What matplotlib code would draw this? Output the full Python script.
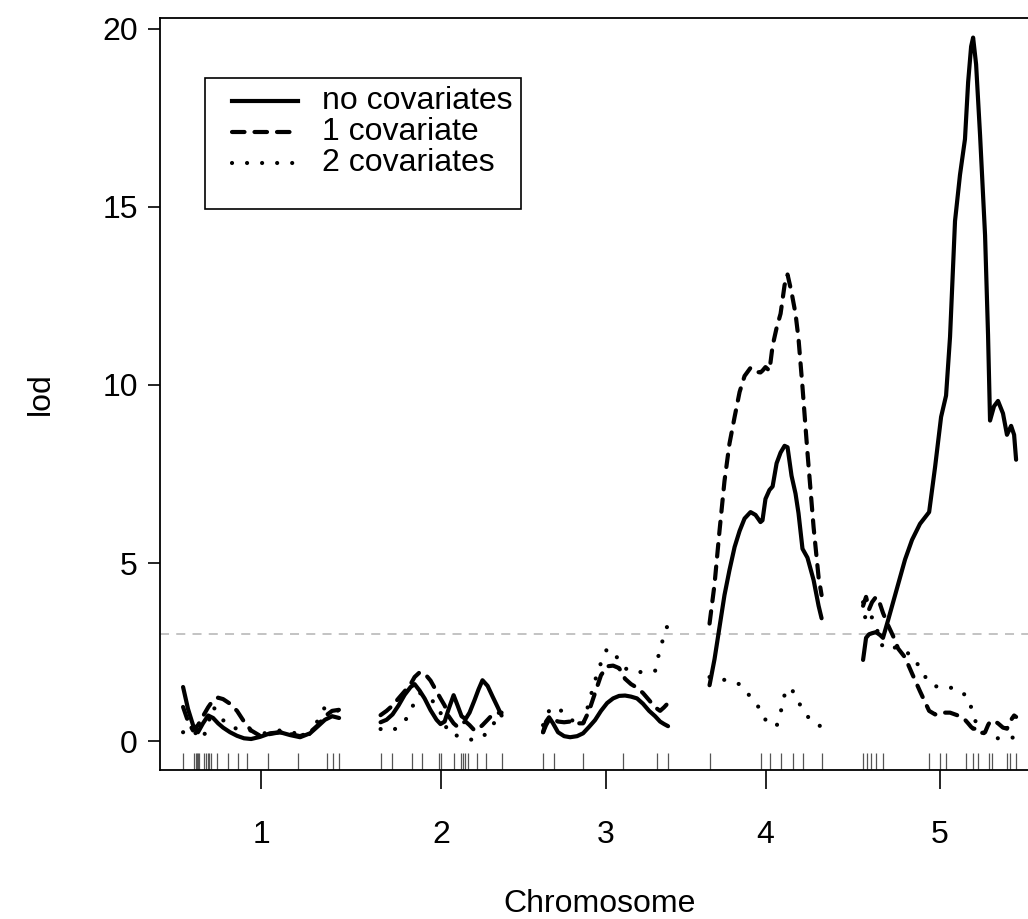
import matplotlib.pyplot as plt
from matplotlib.lines import Line2D
from matplotlib.patches import Rectangle
import numpy as np
import pandas as pd

plt.rcParams['font.family'] = ['Liberation Sans', 'DejaVu Sans']

chroms = ['1', '2', '3', '4', '5']
gap = 25  # cM between chromosomes
threshold = 3
legend_labels = ['no covariates', '1 covariate', '2 covariates']

# marker positions (cM)
markers_c1 = [0, 6.6, 7.8, 8.4, 9.0, 9.6, 12.7, 13.9, 15.1, 15.7, 16.9, 20.5, 27.1,
              33.1, 38.6, 51.2, 69.3, 86.7, 90.4, 94.0]
markers_c2 = [0, 6.6, 18.7, 24.7, 34.9, 36.7, 44.0, 48.2, 49.4, 50.6, 52.4, 57.8,
              63.3, 72.9]
markers_c3 = [0, 6.6, 24.1, 48.2, 68.7, 75.3]
markers_c4 = [0, 31.3, 36.7, 42.8, 50.0, 56.6, 67.5]
markers_c5 = [0, 2.4, 4.8, 7.8, 12.0, 39.8, 46.4, 50.0, 62.0, 66.3, 69.3, 75.9,
              77.7, 86.7, 88.6, 92.2]

# scan results: position (cM) and lod for the three models
pos_c1 = [0, 3.0, 6.0, 9.0, 12.0, 15.1, 18.1, 21.1, 24.1, 28.3, 32.5, 36.7, 41.0,
          46.4, 52.4, 58.4, 64.5, 70.5, 76.5, 81.3, 85.5, 89.8, 94.0]
nocov_c1 = [1.52, 0.9, 0.45, 0.25, 0.5, 0.72, 0.65, 0.5, 0.38, 0.25, 0.15, 0.08, 0.06,
            0.12, 0.22, 0.25, 0.17, 0.11, 0.22, 0.42, 0.6, 0.7, 0.65]
cov1_c1 = [0.96, 0.55, 0.3, 0.45, 0.7, 0.95, 1.15, 1.22, 1.18, 1.05, 0.85, 0.55, 0.3,
           0.15, 0.2, 0.25, 0.2, 0.14, 0.25, 0.45, 0.7, 0.85, 0.88]
cov2_c1 = [0.25, 0.35, 0.3, 0.15, 0.06, 0.5, 0.96, 0.8, 0.59, 0.4, 0.35, 0.3, 0.3,
           0.2, 0.25, 0.3, 0.25, 0.2, 0.2, 0.59, 0.96, 0.9, 0.85]

pos_c2 = [0, 3.6, 7.2, 10.8, 14.5, 18.1, 20.5, 23.5, 26.5, 30.1, 33.7, 36.1, 38.6,
          41.0, 44.0, 46.4, 48.8, 51.2, 53.6, 56.6, 59.0, 61.4, 64.5, 67.5, 70.5, 72.9]
nocov_c2 = [0.53, 0.6, 0.75, 1.0, 1.3, 1.52, 1.6, 1.42, 1.2, 0.87, 0.6, 0.48, 0.55,
            0.9, 1.29, 1.0, 0.7, 0.62, 0.8, 1.15, 1.45, 1.71, 1.55, 1.25, 0.96, 0.72]
cov1_c2 = [0.73, 0.85, 1.0, 1.2, 1.4, 1.6, 1.8, 1.93, 1.9, 1.7, 1.4, 1.2, 1.0,
           0.7, 0.5, 0.4, 0.5, 0.55, 0.45, 0.3, 0.35, 0.45, 0.6, 0.75, 0.79, 0.8]
cov2_c2 = [0.34, 0.3, 0.3, 0.4, 0.55, 0.85, 1.1, 1.35, 1.3, 1.15, 1.07, 0.8, 0.5,
           0.22, 0.18, 0.15, 0.11, 0.08, 0.05, 0.03, 0.05, 0.12, 0.25, 0.45, 0.65, 0.78]

pos_c3 = [0, 1.8, 3.6, 6.0, 9.0, 12.7, 16.3, 20.5, 24.1, 27.7, 31.3, 34.9, 38.6,
          42.2, 45.8, 49.4, 53.0, 56.6, 60.2, 63.9, 67.5, 70.5, 72.9, 75.3]
nocov_c3 = [0.25, 0.55, 0.67, 0.5, 0.25, 0.14, 0.11, 0.14, 0.22, 0.4, 0.59, 0.85,
            1.07, 1.2, 1.27, 1.28, 1.25, 1.2, 1.05, 0.85, 0.7, 0.55, 0.48, 0.42]
cov1_c3 = [0.25, 0.45, 0.6, 0.62, 0.55, 0.53, 0.55, 0.5, 0.5, 0.85, 1.35, 1.85,
           2.1, 2.12, 2.05, 1.75, 1.6, 1.5, 1.35, 1.15, 0.95, 0.85, 0.95, 1.07]
cov2_c3 = [0.45, 0.65, 0.85, 0.92, 0.96, 0.75, 0.62, 0.5, 0.45, 1.1, 1.7, 2.2,
           2.6, 2.45, 2.3, 2.05, 1.95, 1.94, 1.94, 1.95, 1.97, 2.6, 2.95, 3.3]

pos_c4 = [0, 3.0, 6.0, 9.0, 12.0, 15.1, 18.1, 21.1, 24.7, 27.7, 30.7, 31.9, 33.7,
          36.1, 38.0, 40.4, 42.8, 45.2, 47.0, 49.4, 51.8, 53.6, 56.0, 59.0, 62.7,
          65.7, 67.5]
nocov_c4 = [1.57, 2.3, 3.2, 4.1, 4.8, 5.45, 5.9, 6.25, 6.43, 6.35, 6.15, 6.2, 6.8,
            7.05, 7.15, 7.8, 8.1, 8.29, 8.25, 7.45, 6.95, 6.4, 5.4, 5.15, 4.52, 3.8, 3.45]
cov1_c4 = [3.3, 4.4, 5.9, 7.3, 8.35, 9.1, 9.8, 10.25, 10.48, 10.37, 10.35, 10.4, 10.5,
           10.4, 11.1, 11.6, 12.0, 12.8, 13.1, 12.6, 12.0, 11.3, 9.94, 8.1, 6.0, 4.6, 4.1]
cov2_c4 = [1.8, 1.75, 1.74, 1.72, 1.68, 1.63, 1.6, 1.45, 1.24, 1.05, 0.9, 0.82, 0.6,
           0.48, 0.45, 0.42, 0.8, 1.3, 1.5, 1.45, 1.3, 1.1, 0.9, 0.7, 0.5, 0.45, 0.4]

pos_c5 = [0, 1.8, 3.6, 5.4, 7.8, 10.2, 12.0, 15.1, 18.1, 21.1, 25.3, 29.5, 34.3,
          39.8, 43.4, 47.0, 50.0, 52.4, 55.4, 58.4, 61.4, 63.3, 65.1, 66.3, 68.1,
          70.5, 73.5, 75.3, 76.5, 78.9, 81.3, 84.3, 86.7, 89.2, 91.0, 92.2]
nocov_c5 = [2.28, 2.9, 3.0, 3.03, 3.06, 2.98, 2.9, 3.4, 3.9, 4.4, 5.1, 5.65, 6.1,
            6.43, 7.7, 9.1, 9.7, 11.35, 14.6, 15.9, 16.9, 18.5, 19.5, 19.75, 19.0,
            17.0, 14.2, 11.4, 9.0, 9.4, 9.55, 9.2, 8.6, 8.85, 8.6, 7.9]
cov1_c5 = [3.8, 4.05, 3.7, 3.9, 4.05, 3.85, 3.6, 3.25, 2.95, 2.6, 2.35, 1.9, 1.4,
           0.85, 0.75, 0.8, 0.8, 0.8, 0.75, 0.7, 0.6, 0.5, 0.4, 0.35, 0.35, 0.22,
           0.25, 0.45, 0.55, 0.57, 0.5, 0.38, 0.35, 0.6, 0.72, 0.68]
cov2_c5 = [3.9, 3.3, 3.4, 3.48, 3.2, 2.9, 2.61, 2.6, 2.62, 2.64, 2.5, 2.42, 2.05,
           1.63, 1.55, 1.49, 1.5, 1.5, 1.49, 1.4, 1.3, 1.24, 0.95, 0.79, 0.5, 0.3,
           0.2, 0.17, 0.15, 0.1, 0.08, 0.1, 0.1, 0.08, 0.12, 0.15]

markers = [markers_c1, markers_c2, markers_c3, markers_c4, markers_c5]
positions = [pos_c1, pos_c2, pos_c3, pos_c4, pos_c5]
nocov = [nocov_c1, nocov_c2, nocov_c3, nocov_c4, nocov_c5]
cov1 = [cov1_c1, cov1_c2, cov1_c3, cov1_c4, cov1_c5]
cov2 = [cov2_c1, cov2_c2, cov2_c3, cov2_c4, cov2_c5]

# scanone-like table
scan = pd.concat([pd.DataFrame({'chr': c, 'pos': p, 'lod1': a, 'lod2': b, 'lod3': d})
                  for c, p, a, b, d in zip(chroms, positions, nocov, cov1, cov2)],
                 ignore_index=True)

# chromosome offsets along the genome
lengths = [max(m) for m in markers]
offsets = np.concatenate([[0], np.cumsum(np.array(lengths) + gap)[:-1]])
mids = offsets + np.array(lengths) / 2

FS = 23
fig = plt.figure(figsize=(10.28, 9.19), dpi=100)
ax = fig.add_axes([160 / 1028, 149 / 919, 880 / 1028, 752 / 919])

LW = 3.0
linestyles = ['-', (0, (3.0, 2.4)), (0, (0.01, 3.6))]

for i, c in enumerate(chroms):
    sub = scan[scan['chr'] == c]
    x = sub['pos'] + offsets[i]
    for col, ls in zip(['lod1', 'lod2', 'lod3'], linestyles):
        ax.plot(x, sub[col], color='black', lw=LW, ls=ls,
                dash_capstyle='round', solid_capstyle='round')
    # marker rug
    ax.vlines(np.array(markers[i]) + offsets[i], 0, 0.022,
              transform=ax.get_xaxis_transform(), color='#555555', lw=0.9)

ax.axhline(threshold, color='#bebebe', lw=1.3, ls=(0, (5, 4)), zorder=0)

ax.set_xlim(-13.9, 516.3)
ax.set_ylim(-0.81, 20.3)
ax.set_yticks([0, 5, 10, 15, 20])
ax.set_xticks(mids)
ax.set_xticklabels(chroms)
ax.tick_params(axis='y', length=9, width=1.2, pad=7, labelsize=FS)
ax.tick_params(axis='x', length=14, width=1.2, pad=22, labelsize=FS)
for s in ax.spines.values():
    s.set_linewidth(1.3)

ax.set_xlabel('Chromosome', fontsize=FS, labelpad=28)
ax.set_ylabel('lod', fontsize=FS, labelpad=33)

# legend drawn in axes coordinates, R style
tr = ax.transAxes
ax.add_patch(Rectangle((0.0511, 0.7460), 0.3591, 0.1742, transform=tr,
                       facecolor='white', edgecolor='black', lw=1.2, zorder=5))
for lab, ls, yy in zip(legend_labels, linestyles, [0.8896, 0.8484, 0.8072]):
    ax.add_line(Line2D([0.0818, 0.1568], [yy, yy], transform=tr, color='black',
                       lw=LW, ls=ls, dash_capstyle='round', zorder=6))
    ax.text(0.1841, yy, lab, transform=tr, fontsize=FS, va='center', ha='left',
            zorder=6)

fig.savefig('out.png', dpi=100)
